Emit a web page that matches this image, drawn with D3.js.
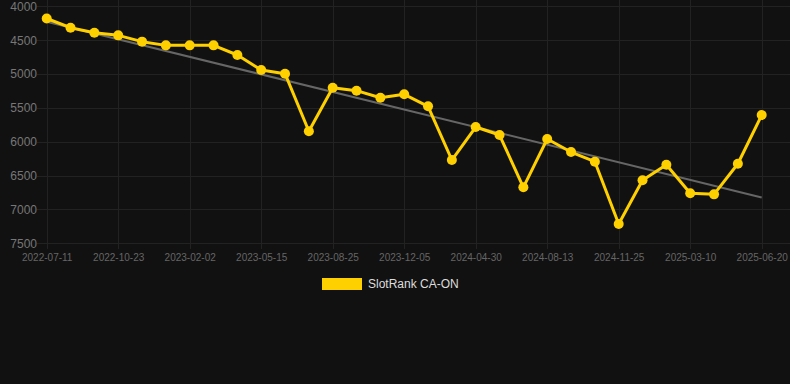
<!DOCTYPE html>
<html>
<head>
<meta charset="utf-8">
<script src="https://cdn.jsdelivr.net/npm/d3@7"></script>
<style>
  html, body { margin: 0; padding: 0; background: #111111; }
  svg { display: block; font-family: Arial, "Liberation Sans", sans-serif; }
</style>
</head>
<body>
<svg id="chart" width="790" height="384"></svg>
<script>
const dates = [
  "2022-07-11","2022-08-15","2022-09-19","2022-10-23","2022-11-26","2022-12-30",
  "2023-02-02","2023-03-08","2023-04-11","2023-05-15","2023-06-18","2023-07-22",
  "2023-08-25","2023-09-28","2023-11-01","2023-12-05","2024-01-23","2024-03-12",
  "2024-04-30","2024-06-04","2024-07-09","2024-08-13","2024-09-16","2024-10-21",
  "2024-11-25","2024-12-29","2025-02-03","2025-03-10","2025-04-13","2025-05-17",
  "2025-06-20"
];
const ranks = [
  4180, 4316, 4390, 4429, 4522, 4577,
  4577, 4577, 4719, 4941, 4995, 5846,
  5202, 5246, 5350, 5300, 5477, 6270,
  5783, 5901, 6673, 5960, 6152, 6295,
  7215, 6570, 6339, 6762, 6777, 6325,
  5606
];
const yTicks = [4000, 4500, 5000, 5500, 6000, 6500, 7000, 7500];
const seriesName = "SlotRank CA-ON";

const svg = d3.select("#chart");
const W = 790;
const x = d3.scalePoint().domain(dates).range([46.7, 761.7]);
const y = d3.scaleLinear().domain([4000, 7500]).range([6.3, 243.3]);

const labelDates = dates.filter((d, i) => i % 3 === 0);

// horizontal grid
svg.append("g").selectAll("line").data(yTicks).join("line")
  .attr("x1", 37).attr("x2", W)
  .attr("y1", d => Math.round(y(d)) + 0.5).attr("y2", d => Math.round(y(d)) + 0.5)
  .attr("stroke", "#222222").attr("stroke-width", 1);

// vertical grid
svg.append("g").selectAll("line").data(labelDates).join("line")
  .attr("x1", d => Math.round(x(d)) + 0.5).attr("x2", d => Math.round(x(d)) + 0.5)
  .attr("y1", 0).attr("y2", 249)
  .attr("stroke", "#222222").attr("stroke-width", 1);

// y axis labels
const yAxis = d3.axisLeft(y).tickValues(yTicks).tickSize(0).tickPadding(0).tickFormat(d3.format("d"));
const gy = svg.append("g").attr("transform", "translate(37,0)").call(yAxis);
gy.select(".domain").remove();
gy.selectAll("text").attr("fill", "#777777").style("font-size", "12px")
  .style("font-family", "Arial, 'Liberation Sans', sans-serif");

// x axis labels
const xAxis = d3.axisBottom(x).tickValues(labelDates).tickSize(0).tickPadding(0);
const gx = svg.append("g").attr("transform", "translate(0,254)").call(xAxis);
gx.select(".domain").remove();
gx.selectAll("text").attr("fill", "#666666").style("font-size", "10px")
  .attr("dy", "0.71em")
  .style("font-family", "Arial, 'Liberation Sans', sans-serif");

// trend line (least squares over index)
const n = ranks.length;
const idx = d3.range(n);
const mx = d3.mean(idx), my = d3.mean(ranks);
const slope = d3.sum(idx, i => (i - mx) * (ranks[i] - my)) / d3.sum(idx, i => (i - mx) * (i - mx));
const intercept = my - slope * mx;
svg.append("line")
  .attr("x1", x(dates[0])).attr("y1", y(intercept))
  .attr("x2", x(dates[n - 1])).attr("y2", y(intercept + slope * (n - 1)))
  .attr("stroke", "#666666").attr("stroke-width", 2);

// series line
const data = dates.map((d, i) => ({ d, v: ranks[i] }));
svg.append("path").datum(data)
  .attr("fill", "none").attr("stroke", "#FFD000").attr("stroke-width", 3)
  .attr("stroke-linejoin", "round")
  .attr("d", d3.line().x(p => x(p.d)).y(p => y(p.v)));

svg.append("g").selectAll("circle").data(data).join("circle")
  .attr("cx", p => x(p.d)).attr("cy", p => y(p.v)).attr("r", 5)
  .attr("fill", "#FFD000");

// legend
const lg = svg.append("g");
lg.append("rect").attr("x", 322).attr("y", 278).attr("width", 40).attr("height", 12)
  .attr("fill", "#FFD000");
lg.append("text").attr("x", 368).attr("y", 284).attr("dy", "0.35em")
  .attr("fill", "#dddddd").style("font-size", "12px").text(seriesName);
</script>
</body>
</html>
